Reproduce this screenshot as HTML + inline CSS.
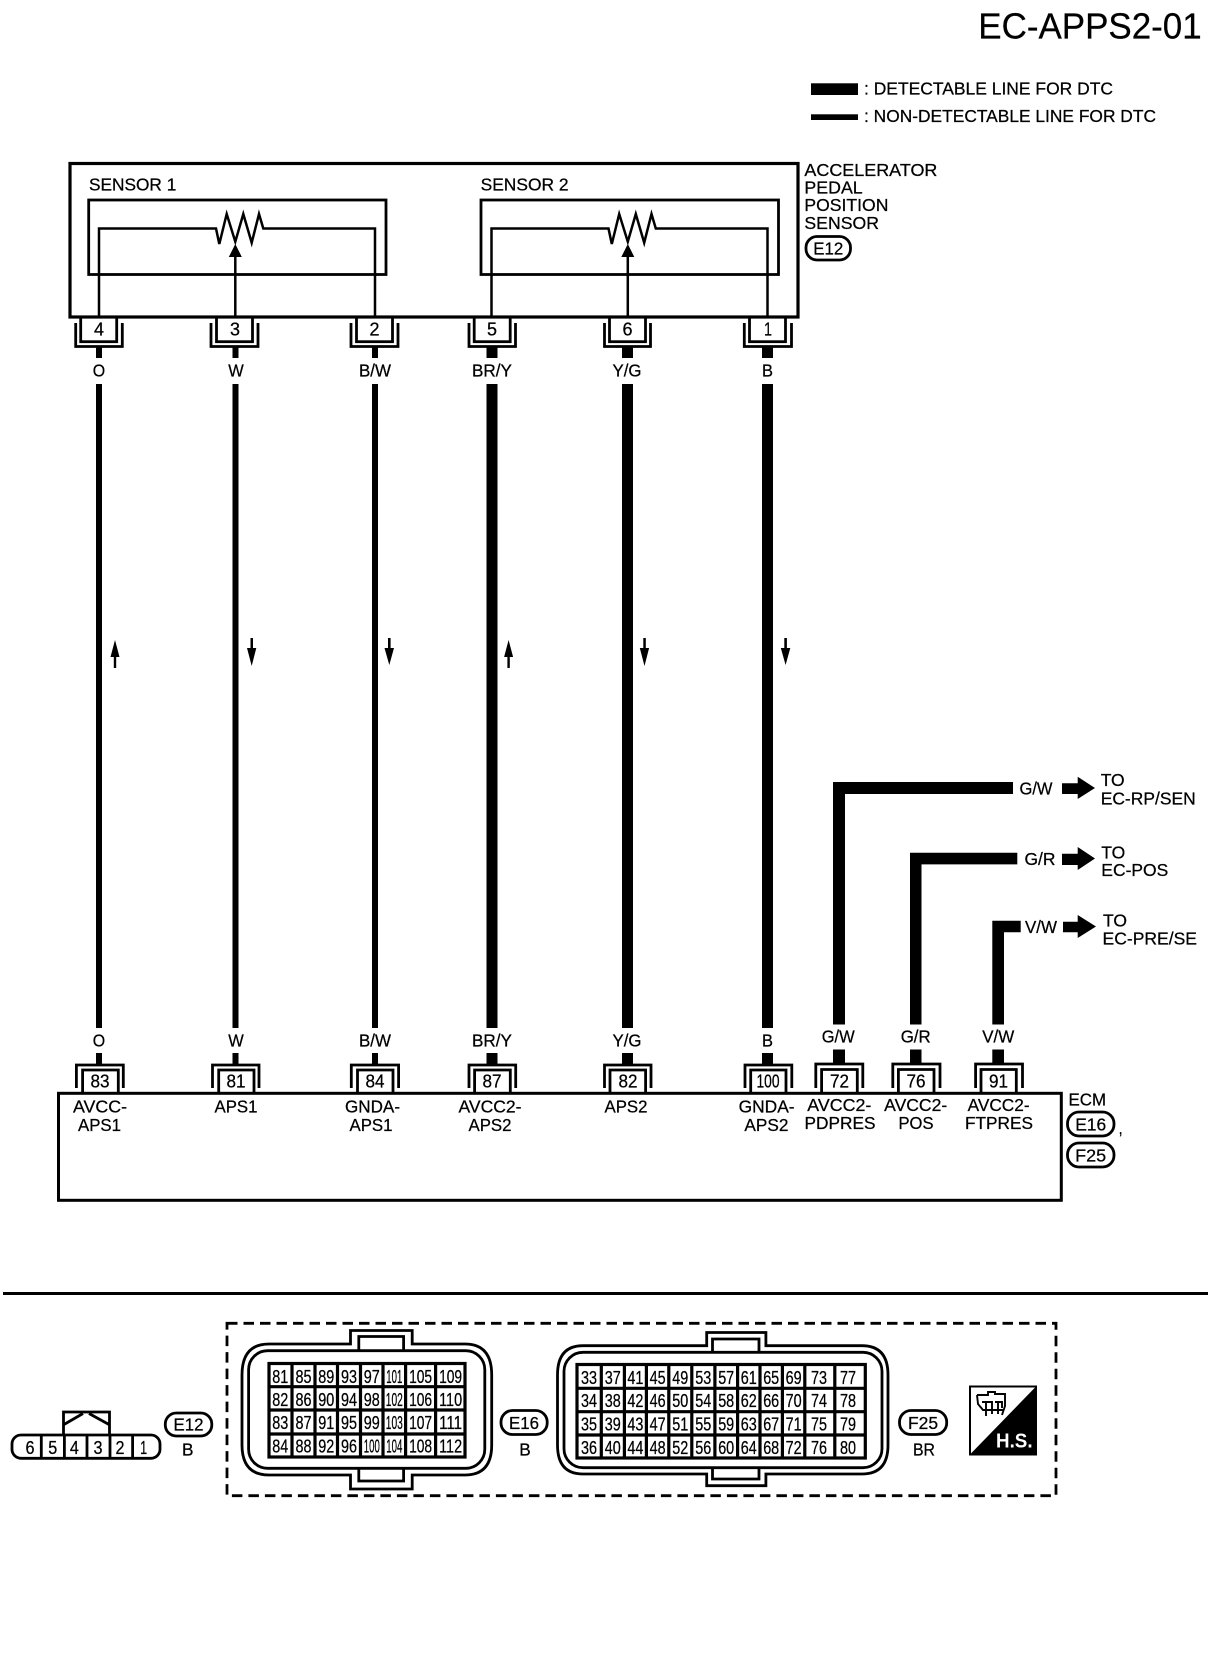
<!DOCTYPE html>
<html><head><meta charset="utf-8"><style>
html,body{margin:0;padding:0;background:#fff}
svg{display:block}
text{font-family:"Liberation Sans",sans-serif;font-size:17.5px;fill:#000;text-anchor:middle;stroke:#000;stroke-width:.25}
.l{text-anchor:start}
.n{font-size:18px}
.g{fill:none;stroke:#000;stroke-width:2.8}
.w{fill:none;stroke:#000;stroke-width:2.5}
.c{fill:none;stroke:#000;stroke-width:3.2}
.b{fill:#000;stroke:none}
</style></head><body>
<svg width="1216" height="1660" viewBox="0 0 1216 1660" xmlns="http://www.w3.org/2000/svg">
<rect width="1216" height="1660" fill="#fff"/>

<!-- title & legend -->
<text x="978.3" y="38.5" class="l" style="font-size:36px" textLength="223.4" lengthAdjust="spacingAndGlyphs">EC-APPS2-01</text>
<rect class="b" x="811" y="83.3" width="47" height="11.7"/>
<rect class="b" x="811" y="114.3" width="47" height="5.7"/>
<text x="864" y="94.6" class="l" textLength="249" lengthAdjust="spacingAndGlyphs">: DETECTABLE LINE FOR DTC</text>
<text x="864" y="122" class="l" textLength="292" lengthAdjust="spacingAndGlyphs">: NON-DETECTABLE LINE FOR DTC</text>

<!-- sensor box -->
<rect x="70" y="163.5" width="728" height="153.5" fill="none" stroke="#000" stroke-width="3.2"/>
<text x="89" y="190.6" class="l" textLength="87.3" lengthAdjust="spacingAndGlyphs">SENSOR 1</text>
<text x="480.6" y="190.6" class="l" textLength="88" lengthAdjust="spacingAndGlyphs">SENSOR 2</text>
<rect class="g" x="88.7" y="200" width="297.3" height="74.5"/>
<rect class="g" x="481" y="200" width="297.5" height="74.5"/>
<path class="w" d="M99 317V228.5H216L219.3 244L226.7 214L235.3 241.7L243.3 214L251.7 242.7L259 214L263.3 228.5H375V317"/>
<path class="w" d="M235.3 317V250"/>
<polygon class="b" points="235.3,244 241.8,257 228.8,257"/>
<path class="w" d="M491.5 317V228.5H608.5L611.8 244L619.2 214L627.8 241.7L635.8 214L644.2 242.7L651.5 214L655.8 228.5H767.5V317"/>
<path class="w" d="M627.8 317V250"/>
<polygon class="b" points="627.8,244 634.3,257 621.3,257"/>
<text x="804.4" y="175.8" class="l" textLength="133" lengthAdjust="spacingAndGlyphs">ACCELERATOR</text>
<text x="804.4" y="193.5" class="l" textLength="58.3" lengthAdjust="spacingAndGlyphs">PEDAL</text>
<text x="804.4" y="210.8" class="l" textLength="84" lengthAdjust="spacingAndGlyphs">POSITION</text>
<text x="804.4" y="228.8" class="l" textLength="74.6" lengthAdjust="spacingAndGlyphs">SENSOR</text>
<rect class="g" x="806" y="236.5" width="44.5" height="23.5" rx="11"/>
<text x="828.3" y="254.5" textLength="30" lengthAdjust="spacingAndGlyphs">E12</text>

<!-- top connectors -->
<g>
<rect class="g" x="80.7" y="317" width="36" height="24.7"/><path class="g" d="M75.7 323V346.5H122.3V323"/>
<rect class="g" x="216.5" y="317" width="36" height="24.7"/><path class="g" d="M211 323V346.5H258V323"/>
<rect class="g" x="356.5" y="317" width="36" height="24.7"/><path class="g" d="M351 323V346.5H398V323"/>
<rect class="g" x="474.2" y="317" width="36" height="24.7"/><path class="g" d="M469 323V346.5H515.5V323"/>
<rect class="g" x="609.5" y="317" width="36" height="24.7"/><path class="g" d="M604.5 323V346.5H650.5V323"/>
<rect class="g" x="749.5" y="317" width="36" height="24.7"/><path class="g" d="M744.3 323V346.5H791.5V323"/>
</g>
<text x="99" y="335.5" class="n" textLength="10" lengthAdjust="spacingAndGlyphs">4</text>
<text x="235" y="335.5" class="n" textLength="10" lengthAdjust="spacingAndGlyphs">3</text>
<text x="374.5" y="335.5" class="n" textLength="10" lengthAdjust="spacingAndGlyphs">2</text>
<text x="492" y="335.5" class="n" textLength="10" lengthAdjust="spacingAndGlyphs">5</text>
<text x="627.5" y="335.5" class="n" textLength="10" lengthAdjust="spacingAndGlyphs">6</text>
<text x="768" y="335.5" class="n" textLength="8" lengthAdjust="spacingAndGlyphs">1</text>

<!-- main wires -->
<g fill="#000">
<rect x="96" y="346" width="6" height="12"/><rect x="96" y="384" width="6" height="644"/><rect x="96" y="1053" width="6" height="12"/>
<rect x="232.5" y="346" width="6" height="12"/><rect x="232.5" y="384" width="6" height="644"/><rect x="232.5" y="1053" width="6" height="12"/>
<rect x="372" y="346" width="6" height="12"/><rect x="372" y="384" width="6" height="644"/><rect x="372" y="1053" width="6" height="12"/>
<rect x="486.5" y="346" width="11" height="12"/><rect x="486.5" y="384" width="11" height="644"/><rect x="486.5" y="1053" width="11" height="12"/>
<rect x="622" y="346" width="11" height="12"/><rect x="622" y="384" width="11" height="644"/><rect x="622" y="1053" width="11" height="12"/>
<rect x="762" y="346" width="11" height="12"/><rect x="762" y="384" width="11" height="644"/><rect x="762" y="1053" width="11" height="12"/>
</g>
<text x="99" y="376.5" textLength="12.4" lengthAdjust="spacingAndGlyphs">O</text>
<text x="236" y="376.5" textLength="15.5" lengthAdjust="spacingAndGlyphs">W</text>
<text x="375" y="376.5" textLength="32" lengthAdjust="spacingAndGlyphs">B/W</text>
<text x="492" y="376.5" textLength="40" lengthAdjust="spacingAndGlyphs">BR/Y</text>
<text x="627" y="376.5" textLength="29" lengthAdjust="spacingAndGlyphs">Y/G</text>
<text x="767.5" y="376.5" textLength="11" lengthAdjust="spacingAndGlyphs">B</text>
<text x="99" y="1046.5" textLength="12.4" lengthAdjust="spacingAndGlyphs">O</text>
<text x="236" y="1046.5" textLength="15.5" lengthAdjust="spacingAndGlyphs">W</text>
<text x="375" y="1046.5" textLength="32" lengthAdjust="spacingAndGlyphs">B/W</text>
<text x="492" y="1046.5" textLength="40" lengthAdjust="spacingAndGlyphs">BR/Y</text>
<text x="627" y="1046.5" textLength="29" lengthAdjust="spacingAndGlyphs">Y/G</text>
<text x="767.5" y="1046.5" textLength="11" lengthAdjust="spacingAndGlyphs">B</text>

<!-- direction arrows -->
<g fill="#000">
<path d="M115 640L119.5 657H116.2V668H113.8V657H110.5Z"/>
<path d="M251.7 666L247 648H250.5V638H253V648H256.3Z"/>
<path d="M389.3 665L384.5 648H388V638H390.6V648H394Z"/>
<path d="M508.6 640L513.1 657H509.8V668H507.4V657H504.1Z"/>
<path d="M644.5 666L639.8 648H643.3V638H645.8V648H649.1Z"/>
<path d="M785.6 665L780.8 648H784.3V638H786.9V648H790.3Z"/>
</g>

<!-- right branches -->
<g fill="#000">
<path d="M833 1024.5V782H1013V794H845V1024.5Z"/>
<path d="M910 1024.5V852.7H1017.3V864.4H921.5V1024.5Z"/>
<path d="M992.3 1024.5V920.7H1020.7V932.3H1004V1024.5Z"/>
<rect x="833" y="1049.5" width="12" height="15"/>
<rect x="910" y="1049.5" width="11.5" height="15"/>
<rect x="992.3" y="1049.5" width="11.7" height="15"/>
<path d="M1062 783.3H1077.7V776.7L1095 788L1077.7 799V794H1062Z"/>
<path d="M1062 853.7H1077.7V847L1095 858.5L1077.7 870V865H1062Z"/>
<path d="M1063 921.7H1077.7V915L1096 926.5L1077.7 938V932.3H1063Z"/>
</g>
<text x="1036" y="794.3" textLength="33" lengthAdjust="spacingAndGlyphs">G/W</text>
<text x="1040" y="864.8" textLength="31" lengthAdjust="spacingAndGlyphs">G/R</text>
<text x="1041" y="932.8" textLength="32" lengthAdjust="spacingAndGlyphs">V/W</text>
<text x="1100.7" y="786" class="l" textLength="24" lengthAdjust="spacingAndGlyphs">TO</text>
<text x="1100.7" y="804.6" class="l" textLength="95" lengthAdjust="spacingAndGlyphs">EC-RP/SEN</text>
<text x="1101.3" y="858.5" class="l" textLength="24" lengthAdjust="spacingAndGlyphs">TO</text>
<text x="1101.3" y="876" class="l" textLength="67" lengthAdjust="spacingAndGlyphs">EC-POS</text>
<text x="1103" y="926.5" class="l" textLength="24" lengthAdjust="spacingAndGlyphs">TO</text>
<text x="1102.5" y="944.3" class="l" textLength="94.5" lengthAdjust="spacingAndGlyphs">EC-PRE/SE</text>
<text x="838.2" y="1042.6" textLength="33" lengthAdjust="spacingAndGlyphs">G/W</text>
<text x="915.7" y="1042.6" textLength="30" lengthAdjust="spacingAndGlyphs">G/R</text>
<text x="998.2" y="1042.6" textLength="32" lengthAdjust="spacingAndGlyphs">V/W</text>

<!-- bottom connectors -->
<path class="g" d="M76.4 1088V1065H123.3V1088M82.6 1093V1070H118.3V1093"/>
<path class="g" d="M212.5 1088V1065H259V1088M218.7 1093V1070H254V1093"/>
<path class="g" d="M351.3 1088V1065H398.6V1088M357.5 1093V1070H393V1093"/>
<path class="g" d="M469 1088V1065H515.7V1088M474.6 1093V1070H510.3V1093"/>
<path class="g" d="M604.5 1088V1065H651V1088M610 1093V1070H645.6V1093"/>
<path class="g" d="M745 1088V1065H791.8V1088M750.7 1093V1070H786V1093"/>
<path class="g" d="M815.8 1088V1064H862.8V1088M821.6 1093V1069.5H857.3V1093"/>
<path class="g" d="M892.8 1088V1064H940V1088M898.4 1093V1069.5H934V1093"/>
<path class="g" d="M975.6 1088V1064H1022.5V1088M981 1093V1069.5H1016.3V1093"/>
<text x="100" y="1087.5" class="n" textLength="19" lengthAdjust="spacingAndGlyphs">83</text>
<text x="236" y="1087.5" class="n" textLength="19" lengthAdjust="spacingAndGlyphs">81</text>
<text x="375" y="1087.5" class="n" textLength="19" lengthAdjust="spacingAndGlyphs">84</text>
<text x="492" y="1087.5" class="n" textLength="19" lengthAdjust="spacingAndGlyphs">87</text>
<text x="628" y="1087.5" class="n" textLength="19" lengthAdjust="spacingAndGlyphs">82</text>
<text x="768" y="1087.5" class="n" textLength="23" lengthAdjust="spacingAndGlyphs">100</text>
<text x="839.5" y="1087.5" class="n" textLength="19" lengthAdjust="spacingAndGlyphs">72</text>
<text x="916" y="1087.5" class="n" textLength="19" lengthAdjust="spacingAndGlyphs">76</text>
<text x="998.5" y="1087.5" class="n" textLength="19" lengthAdjust="spacingAndGlyphs">91</text>

<!-- ECM box -->
<rect x="58.5" y="1093.3" width="1002.8" height="107" fill="none" stroke="#000" stroke-width="3"/>
<text x="100" y="1112.5" textLength="54" lengthAdjust="spacingAndGlyphs">AVCC-</text>
<text x="99.5" y="1130.8" textLength="43" lengthAdjust="spacingAndGlyphs">APS1</text>
<text x="236" y="1112.5" textLength="43" lengthAdjust="spacingAndGlyphs">APS1</text>
<text x="372.5" y="1112.5" textLength="55" lengthAdjust="spacingAndGlyphs">GNDA-</text>
<text x="371" y="1130.8" textLength="43" lengthAdjust="spacingAndGlyphs">APS1</text>
<text x="490" y="1112.5" textLength="63" lengthAdjust="spacingAndGlyphs">AVCC2-</text>
<text x="490" y="1130.8" textLength="43" lengthAdjust="spacingAndGlyphs">APS2</text>
<text x="626" y="1112.5" textLength="43" lengthAdjust="spacingAndGlyphs">APS2</text>
<text x="766.6" y="1112.5" textLength="56" lengthAdjust="spacingAndGlyphs">GNDA-</text>
<text x="766.4" y="1130.8" textLength="44" lengthAdjust="spacingAndGlyphs">APS2</text>
<text x="839.3" y="1110.8" textLength="64" lengthAdjust="spacingAndGlyphs">AVCC2-</text>
<text x="840" y="1128.8" textLength="71" lengthAdjust="spacingAndGlyphs">PDPRES</text>
<text x="915.7" y="1110.8" textLength="63" lengthAdjust="spacingAndGlyphs">AVCC2-</text>
<text x="916" y="1128.8" textLength="35" lengthAdjust="spacingAndGlyphs">POS</text>
<text x="998.6" y="1110.8" textLength="62" lengthAdjust="spacingAndGlyphs">AVCC2-</text>
<text x="999" y="1128.8" textLength="68" lengthAdjust="spacingAndGlyphs">FTPRES</text>
<text x="1068.5" y="1105.5" class="l" textLength="37.5" lengthAdjust="spacingAndGlyphs">ECM</text>
<rect class="g" x="1067.5" y="1112" width="46.5" height="24" rx="11.5"/>
<text x="1090.7" y="1130.3" textLength="31" lengthAdjust="spacingAndGlyphs">E16</text>
<text x="1120.6" y="1134" textLength="4" lengthAdjust="spacingAndGlyphs">,</text>
<rect class="g" x="1067.5" y="1143" width="46.5" height="24" rx="11.5"/>
<text x="1090.7" y="1161.3" textLength="31" lengthAdjust="spacingAndGlyphs">F25</text>

<!-- separator -->
<rect class="b" x="3" y="1292" width="1205" height="3"/>
<rect x="227" y="1323.3" width="829" height="172.4" fill="none" stroke="#000" stroke-width="2.8" stroke-dasharray="10.5 6"/>

<!-- E12 small connector -->
<rect class="g" x="12" y="1435" width="148" height="23.3" rx="9"/>
<path class="g" d="M41.3 1435V1458M64.4 1435V1458M87 1435V1458M110 1435V1458M132.6 1435V1458M63.5 1435V1412H109.5V1435"/>
<path class="g" d="M64 1424.5L83 1413.5M89 1413.5L109 1424.5"/>
<text x="30" y="1454" class="n" textLength="9" lengthAdjust="spacingAndGlyphs">6</text>
<text x="52.7" y="1454" class="n" textLength="9" lengthAdjust="spacingAndGlyphs">5</text>
<text x="74.4" y="1454" class="n" textLength="9" lengthAdjust="spacingAndGlyphs">4</text>
<text x="98" y="1454" class="n" textLength="9" lengthAdjust="spacingAndGlyphs">3</text>
<text x="120" y="1454" class="n" textLength="9" lengthAdjust="spacingAndGlyphs">2</text>
<text x="143.6" y="1454" class="n" textLength="7" lengthAdjust="spacingAndGlyphs">1</text>
<rect class="g" x="165.3" y="1413" width="46.5" height="23" rx="11"/>
<text x="188.5" y="1430.5" textLength="30" lengthAdjust="spacingAndGlyphs">E12</text>
<text x="187.7" y="1455.5" textLength="11.5" lengthAdjust="spacingAndGlyphs">B</text>

<!-- E16 connector -->
<path class="g" d="M350.5 1344V1330.5H412.2V1344H465Q491.7 1344 491.7 1375V1445Q491.7 1475 465 1475H412.2V1489H350.5V1475H269Q242 1475 242 1445V1375Q242 1344 269 1344Z"/>
<rect class="g" x="248.6" y="1350.7" width="236.2" height="117.6" rx="19"/>
<path class="g" d="M358.8 1350.7V1336.5H403.6V1350.7M358.8 1468.3V1481H403.6V1468.3"/>
<rect class="c" x="269" y="1363.5" width="196" height="93.5"/>
<path class="c" d="M292 1363V1457M315 1363V1457M337.5 1363V1457M360.5 1363V1457M383 1363V1457M405.6 1363V1457M435.6 1363V1457M268 1386.7H466M268 1410H466M268 1434H466"/>
<text class="n" x="280.3" y="1383" textLength="16" lengthAdjust="spacingAndGlyphs">81</text><text class="n" x="303.5" y="1383" textLength="16" lengthAdjust="spacingAndGlyphs">85</text><text class="n" x="326.3" y="1383" textLength="16" lengthAdjust="spacingAndGlyphs">89</text><text class="n" x="349" y="1383" textLength="16" lengthAdjust="spacingAndGlyphs">93</text><text class="n" x="371.8" y="1383" textLength="16" lengthAdjust="spacingAndGlyphs">97</text><text class="n" x="394.3" y="1383" textLength="16" lengthAdjust="spacingAndGlyphs">101</text><text class="n" x="420.6" y="1383" textLength="23" lengthAdjust="spacingAndGlyphs">105</text><text class="n" x="450.6" y="1383" textLength="23" lengthAdjust="spacingAndGlyphs">109</text>
<text class="n" x="280.3" y="1405.8" textLength="16" lengthAdjust="spacingAndGlyphs">82</text><text class="n" x="303.5" y="1405.8" textLength="16" lengthAdjust="spacingAndGlyphs">86</text><text class="n" x="326.3" y="1405.8" textLength="16" lengthAdjust="spacingAndGlyphs">90</text><text class="n" x="349" y="1405.8" textLength="16" lengthAdjust="spacingAndGlyphs">94</text><text class="n" x="371.8" y="1405.8" textLength="16" lengthAdjust="spacingAndGlyphs">98</text><text class="n" x="394.3" y="1405.8" textLength="17" lengthAdjust="spacingAndGlyphs">102</text><text class="n" x="420.6" y="1405.8" textLength="23" lengthAdjust="spacingAndGlyphs">106</text><text class="n" x="450.6" y="1405.8" textLength="23" lengthAdjust="spacingAndGlyphs">110</text>
<text class="n" x="280.3" y="1429" textLength="16" lengthAdjust="spacingAndGlyphs">83</text><text class="n" x="303.5" y="1429" textLength="16" lengthAdjust="spacingAndGlyphs">87</text><text class="n" x="326.3" y="1429" textLength="16" lengthAdjust="spacingAndGlyphs">91</text><text class="n" x="349" y="1429" textLength="16" lengthAdjust="spacingAndGlyphs">95</text><text class="n" x="371.8" y="1429" textLength="16" lengthAdjust="spacingAndGlyphs">99</text><text class="n" x="394.3" y="1429" textLength="17" lengthAdjust="spacingAndGlyphs">103</text><text class="n" x="420.6" y="1429" textLength="23" lengthAdjust="spacingAndGlyphs">107</text><text class="n" x="450.6" y="1429" textLength="23" lengthAdjust="spacingAndGlyphs">111</text>
<text class="n" x="280.3" y="1452.5" textLength="16" lengthAdjust="spacingAndGlyphs">84</text><text class="n" x="303.5" y="1452.5" textLength="16" lengthAdjust="spacingAndGlyphs">88</text><text class="n" x="326.3" y="1452.5" textLength="16" lengthAdjust="spacingAndGlyphs">92</text><text class="n" x="349" y="1452.5" textLength="16" lengthAdjust="spacingAndGlyphs">96</text><text class="n" x="371.8" y="1452.5" textLength="16" lengthAdjust="spacingAndGlyphs">100</text><text class="n" x="394.3" y="1452.5" textLength="16" lengthAdjust="spacingAndGlyphs">104</text><text class="n" x="420.6" y="1452.5" textLength="23" lengthAdjust="spacingAndGlyphs">108</text><text class="n" x="450.6" y="1452.5" textLength="23" lengthAdjust="spacingAndGlyphs">112</text>
<rect class="g" x="501" y="1410.5" width="46.2" height="24" rx="11.5"/>
<text x="524" y="1429" textLength="30" lengthAdjust="spacingAndGlyphs">E16</text>
<text x="525" y="1455.5" textLength="11.5" lengthAdjust="spacingAndGlyphs">B</text>

<!-- F25 connector -->
<path class="g" d="M706.7 1345.7V1332.5H765.9V1345.7H862Q888 1345.7 888 1375V1445Q888 1474 862 1474H765.9V1485.7H706.7V1474H583Q557.5 1474 557.5 1445V1375Q557.5 1345.7 583 1345.7Z"/>
<rect class="g" x="564" y="1352.3" width="318" height="115.4" rx="19"/>
<path class="g" d="M712.5 1352.3V1339H759V1352.3M712.5 1467.7V1479H759V1467.7"/>
<rect class="c" x="577" y="1364.5" width="288.3" height="93.5"/>
<path class="c" d="M601.3 1364V1458M624.4 1364V1458M646.4 1364V1458M668.8 1364V1458M691.8 1364V1458M714.9 1364V1458M737.6 1364V1458M760 1364V1458M782.4 1364V1458M804.8 1364V1458M834.8 1364V1458M576 1388.3H866M576 1411.7H866M576 1435H866"/>
<text class="n" x="589" y="1383.8" textLength="16" lengthAdjust="spacingAndGlyphs">33</text><text class="n" x="612.8" y="1383.8" textLength="16" lengthAdjust="spacingAndGlyphs">37</text><text class="n" x="635.4" y="1383.8" textLength="16" lengthAdjust="spacingAndGlyphs">41</text><text class="n" x="657.6" y="1383.8" textLength="16" lengthAdjust="spacingAndGlyphs">45</text><text class="n" x="680.3" y="1383.8" textLength="16" lengthAdjust="spacingAndGlyphs">49</text><text class="n" x="703.3" y="1383.8" textLength="16" lengthAdjust="spacingAndGlyphs">53</text><text class="n" x="726.2" y="1383.8" textLength="16" lengthAdjust="spacingAndGlyphs">57</text><text class="n" x="748.8" y="1383.8" textLength="16" lengthAdjust="spacingAndGlyphs">61</text><text class="n" x="771.2" y="1383.8" textLength="16" lengthAdjust="spacingAndGlyphs">65</text><text class="n" x="793.6" y="1383.8" textLength="16" lengthAdjust="spacingAndGlyphs">69</text><text class="n" x="819" y="1383.8" textLength="16" lengthAdjust="spacingAndGlyphs">73</text><text class="n" x="848" y="1383.8" textLength="16" lengthAdjust="spacingAndGlyphs">77</text>
<text class="n" x="589" y="1407.2" textLength="16" lengthAdjust="spacingAndGlyphs">34</text><text class="n" x="612.8" y="1407.2" textLength="16" lengthAdjust="spacingAndGlyphs">38</text><text class="n" x="635.4" y="1407.2" textLength="16" lengthAdjust="spacingAndGlyphs">42</text><text class="n" x="657.6" y="1407.2" textLength="16" lengthAdjust="spacingAndGlyphs">46</text><text class="n" x="680.3" y="1407.2" textLength="16" lengthAdjust="spacingAndGlyphs">50</text><text class="n" x="703.3" y="1407.2" textLength="16" lengthAdjust="spacingAndGlyphs">54</text><text class="n" x="726.2" y="1407.2" textLength="16" lengthAdjust="spacingAndGlyphs">58</text><text class="n" x="748.8" y="1407.2" textLength="16" lengthAdjust="spacingAndGlyphs">62</text><text class="n" x="771.2" y="1407.2" textLength="16" lengthAdjust="spacingAndGlyphs">66</text><text class="n" x="793.6" y="1407.2" textLength="16" lengthAdjust="spacingAndGlyphs">70</text><text class="n" x="819" y="1407.2" textLength="16" lengthAdjust="spacingAndGlyphs">74</text><text class="n" x="848" y="1407.2" textLength="16" lengthAdjust="spacingAndGlyphs">78</text>
<text class="n" x="589" y="1430.5" textLength="16" lengthAdjust="spacingAndGlyphs">35</text><text class="n" x="612.8" y="1430.5" textLength="16" lengthAdjust="spacingAndGlyphs">39</text><text class="n" x="635.4" y="1430.5" textLength="16" lengthAdjust="spacingAndGlyphs">43</text><text class="n" x="657.6" y="1430.5" textLength="16" lengthAdjust="spacingAndGlyphs">47</text><text class="n" x="680.3" y="1430.5" textLength="16" lengthAdjust="spacingAndGlyphs">51</text><text class="n" x="703.3" y="1430.5" textLength="16" lengthAdjust="spacingAndGlyphs">55</text><text class="n" x="726.2" y="1430.5" textLength="16" lengthAdjust="spacingAndGlyphs">59</text><text class="n" x="748.8" y="1430.5" textLength="16" lengthAdjust="spacingAndGlyphs">63</text><text class="n" x="771.2" y="1430.5" textLength="16" lengthAdjust="spacingAndGlyphs">67</text><text class="n" x="793.6" y="1430.5" textLength="16" lengthAdjust="spacingAndGlyphs">71</text><text class="n" x="819" y="1430.5" textLength="16" lengthAdjust="spacingAndGlyphs">75</text><text class="n" x="848" y="1430.5" textLength="16" lengthAdjust="spacingAndGlyphs">79</text>
<text class="n" x="589" y="1453.8" textLength="16" lengthAdjust="spacingAndGlyphs">36</text><text class="n" x="612.8" y="1453.8" textLength="16" lengthAdjust="spacingAndGlyphs">40</text><text class="n" x="635.4" y="1453.8" textLength="16" lengthAdjust="spacingAndGlyphs">44</text><text class="n" x="657.6" y="1453.8" textLength="16" lengthAdjust="spacingAndGlyphs">48</text><text class="n" x="680.3" y="1453.8" textLength="16" lengthAdjust="spacingAndGlyphs">52</text><text class="n" x="703.3" y="1453.8" textLength="16" lengthAdjust="spacingAndGlyphs">56</text><text class="n" x="726.2" y="1453.8" textLength="16" lengthAdjust="spacingAndGlyphs">60</text><text class="n" x="748.8" y="1453.8" textLength="16" lengthAdjust="spacingAndGlyphs">64</text><text class="n" x="771.2" y="1453.8" textLength="16" lengthAdjust="spacingAndGlyphs">68</text><text class="n" x="793.6" y="1453.8" textLength="16" lengthAdjust="spacingAndGlyphs">72</text><text class="n" x="819" y="1453.8" textLength="16" lengthAdjust="spacingAndGlyphs">76</text><text class="n" x="848" y="1453.8" textLength="16" lengthAdjust="spacingAndGlyphs">80</text>
<rect class="g" x="899.5" y="1410.5" width="47.2" height="24" rx="11.5"/>
<text x="923" y="1429" textLength="30" lengthAdjust="spacingAndGlyphs">F25</text>
<text x="924" y="1455.5" textLength="22" lengthAdjust="spacingAndGlyphs">BR</text>

<!-- H.S. symbol -->
<rect x="970" y="1386.5" width="66" height="68" fill="#fff" stroke="#000" stroke-width="2"/>
<polygon class="b" points="1036.5,1386 1036.5,1455 969.5,1455"/>
<path fill="none" stroke="#000" stroke-width="1.9" d="M977 1395H988V1392H995V1394H1005V1406L1002 1415M977 1395L978 1404L983 1410H1003M982 1402H992V1414M995 1402H1002V1408M986 1402V1416M998 1402V1414"/>
<text x="1014.3" y="1447.5" style="font-size:20px;font-weight:bold;fill:#fff;stroke:none" textLength="36.5" lengthAdjust="spacingAndGlyphs">H.S.</text>
</svg>
</body></html>
